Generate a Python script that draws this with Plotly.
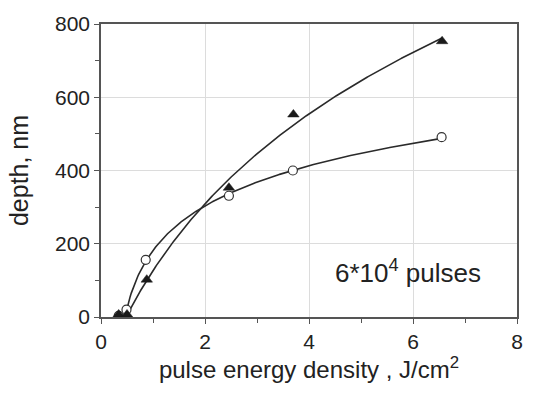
import numpy as np
import plotly.graph_objects as go

# data
tri_x = [0.34, 0.50, 0.88, 2.46, 3.70, 6.56]
tri_y = [7, 7, 102, 353, 553, 753]
circ_x = [0.34, 0.49, 0.86, 2.46, 3.69, 6.55]
circ_y = [3, 20, 156, 331, 400, 491]
x_ticks = [0, 2, 4, 6, 8]
y_ticks = [0, 200, 400, 600, 800]


def fit_log(xs, ys):
    """least-squares fit of y = a*ln(1+(x-x0)/b) to the data"""
    xs = np.array(xs, float)
    ys = np.array(ys, float)
    best = None
    for x0 in np.linspace(0.25, 0.6, 36):
        for b in np.geomspace(0.1, 20, 120):
            f = np.log1p(np.clip(xs - x0, 0, None) / b)
            a = (f @ ys) / (f @ f)
            err = ((a * f - ys) ** 2).sum()
            if best is None or err < best[0]:
                best = (err, x0, b, a)
    _, x0, b, a = best
    xx = np.linspace(x0, xs.max(), 300)
    return xx, a * np.log1p((xx - x0) / b)


line_col = "#2a2a2a"
fig = go.Figure()
for xs, ys in [(tri_x, tri_y), (circ_x, circ_y)]:
    xx, yy = fit_log(xs, ys)
    fig.add_trace(go.Scatter(x=xx, y=yy, mode="lines",
                             line=dict(color=line_col, width=1.6),
                             showlegend=False, hoverinfo="skip"))
fig.add_trace(go.Scatter(x=circ_x, y=circ_y, mode="markers",
                         marker=dict(symbol="circle", size=9, color="white",
                                     line=dict(color="#333", width=1.2)),
                         showlegend=False))
fig.add_trace(go.Scatter(x=tri_x, y=tri_y, mode="markers",
                         marker=dict(symbol="triangle-up", size=10, color="#1a1a1a",
                                     line=dict(color="#1a1a1a", width=0.5)),
                         showlegend=False))

fam = "Liberation Sans, Arial, sans-serif"
tick_font = dict(family=fam, size=21, color="#222")
axis_common = dict(showline=True, linecolor="#555", linewidth=1.5, mirror=True,
                   showgrid=True, gridcolor="#dcdcdc", gridwidth=1,
                   ticks="outside", ticklen=5, tickcolor="#555",
                   zeroline=False, tickfont=tick_font)
fig.update_xaxes(range=[0, 8], tickvals=x_ticks,
                 minor=dict(tickvals=[1, 3, 5, 7], ticks="outside", ticklen=4,
                            tickcolor="#555", showgrid=False),
                 title=dict(text="pulse energy density , J/cm<sup>2</sup>",
                            font=dict(family=fam, size=24, color="#222"), standoff=8),
                 **axis_common)
fig.update_yaxes(range=[0, 800], tickvals=y_ticks,
                 minor=dict(tickvals=[100, 300, 500, 700], ticks="outside", ticklen=4,
                            tickcolor="#555", showgrid=False),
                 title=dict(text="depth, nm", font=dict(family=fam, size=25, color="#222"),
                            standoff=19),
                 **axis_common)
fig.add_annotation(x=5.9, y=125, text="6*10<sup>4</sup> pulses", showarrow=False,
                   font=dict(family=fam, size=26, color="#222"))
fig.update_layout(width=541, height=394, margin=dict(l=101, r=24, t=17, b=77),
                  plot_bgcolor="white", paper_bgcolor="white")
fig.write_html("out.html")
